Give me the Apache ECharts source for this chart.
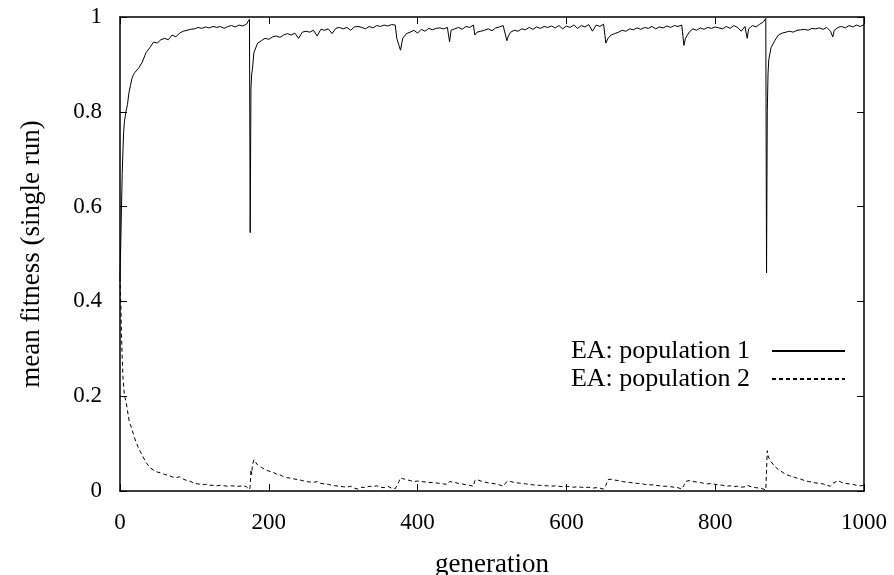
<!DOCTYPE html>
<html>
<head>
<meta charset="utf-8">
<script src="https://cdn.jsdelivr.net/npm/echarts@6/dist/echarts.min.js"></script>
<style>
  html, body { margin: 0; padding: 0; background: #fff; }
  #chart { width: 894px; height: 575px; }
</style>
</head>
<body>
<div id="chart"></div>
<script>
// mean fitness per generation: [generation, fitness]
const pop1 = [
  [0,0.45],[1,0.52],[2,0.6],[3,0.67],[4,0.72],[5,0.76],[6,0.78],[8,0.8],[10,0.815],[12,0.84],
  [14,0.855],[16,0.87],[18,0.878],[20,0.883],[25,0.892],[30,0.905],[35,0.925],[40,0.935],[45,0.947],[50,0.945],
  [55,0.952],[60,0.955],[65,0.952],[70,0.962],[75,0.958],[80,0.966],[85,0.97],[90,0.972],[95,0.974],[100,0.975],
  [105,0.978],[110,0.976],[115,0.979],[120,0.977],[125,0.98],[130,0.978],[135,0.98],[140,0.976],[145,0.98],[150,0.982],
  [155,0.979],[160,0.983],[165,0.981],[170,0.985],[174,0.995],[175,0.545],[176,0.85],[177,0.88],[178,0.89],[180,0.925],
  [185,0.945],[190,0.95],[195,0.955],[200,0.953],[205,0.958],[210,0.96],[215,0.957],[220,0.962],[225,0.965],[230,0.962],
  [235,0.966],[240,0.955],[245,0.968],[250,0.97],[255,0.968],[260,0.972],[265,0.96],[270,0.974],[275,0.972],[280,0.975],
  [285,0.965],[290,0.976],[295,0.978],[300,0.975],[305,0.978],[310,0.972],[315,0.979],[320,0.98],[325,0.978],[330,0.975],
  [335,0.98],[340,0.977],[345,0.982],[350,0.98],[355,0.983],[360,0.981],[365,0.984],[370,0.983],[372,0.955],[375,0.94],
  [377,0.93],[380,0.955],[385,0.965],[390,0.968],[395,0.972],[400,0.966],[405,0.974],[410,0.97],[415,0.976],[420,0.973],
  [425,0.976],[430,0.977],[435,0.975],[440,0.978],[443,0.948],[445,0.972],[450,0.975],[455,0.978],[460,0.974],[465,0.98],
  [470,0.978],[475,0.983],[477,0.962],[480,0.968],[485,0.97],[490,0.972],[495,0.975],[500,0.971],[505,0.977],[510,0.979],
  [515,0.982],[520,0.95],[522,0.96],[525,0.968],[530,0.972],[535,0.97],[540,0.975],[545,0.973],[550,0.978],[555,0.974],
  [560,0.979],[565,0.976],[570,0.98],[575,0.978],[580,0.981],[585,0.977],[590,0.982],[595,0.975],[600,0.981],[605,0.978],
  [610,0.983],[615,0.976],[620,0.982],[625,0.979],[630,0.984],[635,0.97],[640,0.983],[645,0.98],[650,0.985],[653,0.945],
  [656,0.955],[660,0.962],[665,0.965],[670,0.968],[675,0.972],[680,0.97],[685,0.975],[690,0.973],[695,0.977],[700,0.974],
  [705,0.978],[710,0.976],[715,0.98],[720,0.975],[725,0.979],[730,0.977],[735,0.981],[740,0.978],[745,0.982],[750,0.98],
  [755,0.983],[758,0.94],[760,0.955],[765,0.968],[770,0.975],[775,0.972],[780,0.977],[785,0.974],[790,0.978],[795,0.976],
  [800,0.979],[805,0.977],[810,0.975],[815,0.98],[820,0.976],[825,0.982],[830,0.978],[835,0.97],[840,0.98],[843,0.955],
  [845,0.975],[850,0.982],[855,0.979],[860,0.985],[865,0.99],[868,0.997],[869,0.46],[870,0.8],[871,0.88],[872,0.91],
  [875,0.935],[880,0.95],[885,0.962],[890,0.966],[895,0.968],[900,0.97],[905,0.968],[910,0.972],[915,0.973],[920,0.974],
  [925,0.972],[930,0.976],[935,0.975],[940,0.977],[945,0.974],[950,0.978],[955,0.97],[958,0.958],[960,0.972],[965,0.978],
  [970,0.98],[975,0.977],[980,0.982],[985,0.979],[990,0.983],[995,0.98],[1000,0.984]
];

const pop2 = [
  [0,0.45],[1,0.4],[2,0.33],[3,0.28],[4,0.24],[5,0.22],[6,0.2],[8,0.19],[10,0.17],[12,0.15],
  [14,0.14],[16,0.13],[18,0.12],[20,0.11],[25,0.09],[30,0.075],[35,0.06],[40,0.05],[45,0.044],[50,0.04],
  [55,0.038],[60,0.035],[65,0.033],[70,0.03],[75,0.028],[80,0.03],[85,0.025],[90,0.022],[95,0.02],[100,0.016],
  [105,0.015],[110,0.013],[115,0.014],[120,0.012],[125,0.012],[130,0.011],[135,0.012],[140,0.011],[145,0.01],[150,0.011],
  [155,0.01],[160,0.01],[165,0.011],[170,0.009],[174,0.003],[175,0.01],[176,0.045],[177,0.035],[178,0.055],[180,0.066],
  [185,0.055],[190,0.05],[195,0.045],[200,0.042],[205,0.04],[210,0.036],[215,0.034],[220,0.03],[225,0.028],[230,0.027],
  [235,0.025],[240,0.024],[245,0.022],[250,0.02],[255,0.019],[260,0.018],[265,0.02],[270,0.016],[275,0.015],[280,0.014],
  [285,0.012],[290,0.011],[295,0.01],[300,0.009],[305,0.008],[310,0.01],[315,0.006],[320,0.004],[325,0.008],[330,0.007],
  [335,0.01],[340,0.009],[345,0.011],[350,0.008],[355,0.007],[360,0.01],[365,0.006],[370,0.005],[372,0.008],[375,0.02],
  [377,0.028],[380,0.026],[385,0.024],[390,0.022],[395,0.02],[400,0.021],[405,0.02],[410,0.019],[415,0.018],[420,0.018],
  [425,0.017],[430,0.016],[435,0.015],[440,0.014],[443,0.02],[445,0.019],[450,0.018],[455,0.016],[460,0.015],[465,0.013],
  [470,0.012],[475,0.01],[477,0.022],[480,0.024],[485,0.021],[490,0.019],[495,0.017],[500,0.016],[505,0.015],[510,0.013],
  [515,0.01],[520,0.02],[522,0.022],[525,0.02],[530,0.018],[535,0.017],[540,0.016],[545,0.015],[550,0.014],[555,0.013],
  [560,0.012],[565,0.012],[570,0.011],[575,0.011],[580,0.01],[585,0.011],[590,0.01],[595,0.009],[600,0.01],[605,0.009],
  [610,0.008],[615,0.009],[620,0.008],[625,0.007],[630,0.008],[635,0.006],[640,0.007],[645,0.006],[650,0.004],[653,0.012],
  [656,0.024],[660,0.025],[665,0.023],[670,0.022],[675,0.02],[680,0.019],[685,0.018],[690,0.017],[695,0.016],[700,0.016],
  [705,0.014],[710,0.013],[715,0.013],[720,0.012],[725,0.011],[730,0.01],[735,0.01],[740,0.009],[745,0.008],[750,0.007],
  [755,0.004],[758,0.012],[760,0.02],[765,0.022],[770,0.02],[775,0.019],[780,0.018],[785,0.016],[790,0.015],[795,0.016],
  [800,0.014],[805,0.013],[810,0.012],[815,0.01],[820,0.011],[825,0.009],[830,0.01],[835,0.008],[840,0.009],[843,0.012],
  [845,0.01],[850,0.008],[855,0.007],[860,0.006],[865,0.004],[868,0.002],[869,0.003],[870,0.085],[871,0.075],[872,0.07],
  [875,0.062],[880,0.052],[885,0.045],[890,0.04],[895,0.035],[900,0.032],[905,0.03],[910,0.027],[915,0.025],[920,0.022],
  [925,0.02],[930,0.019],[935,0.017],[940,0.016],[945,0.015],[950,0.012],[955,0.01],[958,0.016],[960,0.02],[965,0.022],
  [970,0.018],[975,0.016],[980,0.015],[985,0.014],[990,0.012],[995,0.011],[1000,0.012]
];

const seriesNames = ['EA: population 1', 'EA: population 2'];

const FONT = '"Liberation Serif", "DejaVu Serif", serif';

const chart = echarts.init(document.getElementById('chart'));

// gnuplot-style frame: ticks inside, mirrored on top and right
const tickStyle = { show: true, inside: true, length: 7, lineStyle: { color: '#000', width: 1 } };
const lineStyle = { show: true, onZero: false, lineStyle: { color: '#000', width: 1.5 } };

chart.setOption({
  animation: false,
  backgroundColor: '#fff',
  textStyle: { fontFamily: FONT },
  grid: { left: 120, right: 30, top: 17, bottom: 84, containLabel: false, outerBoundsMode: 'none' },
  legend: {
    orient: 'vertical',
    align: 'right',
    right: 43,
    top: 333,
    itemWidth: 73,
    itemHeight: 14,
    itemGap: 2,
    itemStyle: { color: 'rgba(0,0,0,0)', borderColor: 'rgba(0,0,0,0)', borderWidth: 0 },
    textStyle: { fontFamily: FONT, fontSize: 26, color: '#000', padding: [0, 17, 0, 0] },
    data: seriesNames
  },
  xAxis: [
    {
      type: 'value', min: 0, max: 1000, interval: 200,
      name: 'generation', nameLocation: 'middle', nameGap: 60,
      nameTextStyle: { fontFamily: FONT, fontSize: 27, color: '#000' },
      axisLine: lineStyle, axisTick: tickStyle, splitLine: { show: false },
      axisLabel: { fontFamily: FONT, fontSize: 23, color: '#000', margin: 20, formatter: v => String(v) }
    },
    {
      type: 'value', position: 'top', min: 0, max: 1000, interval: 200,
      axisLine: lineStyle, axisTick: tickStyle, splitLine: { show: false },
      axisLabel: { show: false }
    }
  ],
  yAxis: [
    {
      type: 'value', min: 0, max: 1, interval: 0.2,
      name: 'mean fitness (single run)', nameLocation: 'middle', nameGap: 75,
      nameTextStyle: { fontFamily: FONT, fontSize: 27, color: '#000' },
      axisLine: lineStyle, axisTick: tickStyle, splitLine: { show: false },
      axisLabel: { fontFamily: FONT, fontSize: 23, color: '#000', margin: 18 }
    },
    {
      type: 'value', position: 'right', min: 0, max: 1, interval: 0.2,
      axisLine: lineStyle, axisTick: tickStyle, splitLine: { show: false },
      axisLabel: { show: false }
    }
  ],
  series: [
    {
      name: seriesNames[0], type: 'line', data: pop1,
      symbol: 'none', showSymbol: false,
      lineStyle: { color: '#000', width: 1 },
      itemStyle: { color: '#000' }
    },
    {
      name: seriesNames[1], type: 'line', data: pop2,
      symbol: 'none', showSymbol: false,
      lineStyle: { color: '#000', width: 1, type: [4, 3] },
      itemStyle: { color: '#000' }
    }
  ]
});
</script>
</body>
</html>
